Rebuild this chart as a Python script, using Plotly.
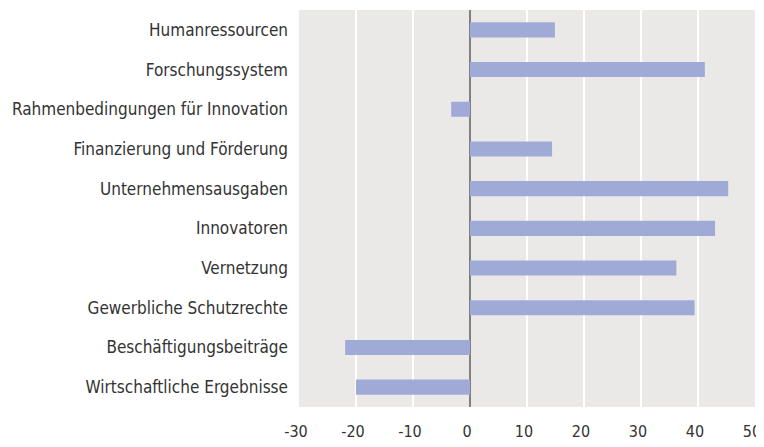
import plotly.graph_objects as go

categories = [
    "Humanressourcen",
    "Forschungssystem",
    "Rahmenbedingungen für Innovation",
    "Finanzierung und Förderung",
    "Unternehmensausgaben",
    "Innovatoren",
    "Vernetzung",
    "Gewerbliche Schutzrechte",
    "Beschäftigungsbeiträge",
    "Wirtschaftliche Ergebnisse",
]
values = [14.9, 41.2, -3.3, 14.4, 45.3, 43.0, 36.2, 39.4, -21.9, -20.0]
tick_vals = [-30, -20, -10, 0, 10, 20, 30, 40, 50]

FONT = "Liberation Sans Narrow, DejaVu Sans Condensed, Roboto, sans-serif"

fig = go.Figure(go.Bar(
    x=values,
    y=categories,
    orientation="h",
    width=0.38,
    marker=dict(color="#a0aad7", line=dict(width=0)),
))

fig.update_layout(
    width=756,
    height=439,
    margin=dict(l=291, r=9, t=2, b=40, autoexpand=False),
    paper_bgcolor="white",
    plot_bgcolor="#ebe9e7",
    showlegend=False,
    font=dict(family=FONT, size=17, color="#333333"),
    xaxis=dict(
        range=[-30, 50],
        tickvals=tick_vals,
        ticktext=[str(v) for v in tick_vals],
        showgrid=True,
        gridcolor="white",
        gridwidth=2,
        zeroline=True,
        zerolinecolor="#808080",
        zerolinewidth=2,
        showline=False,
        ticks="",
        automargin=False,
        ticklabeloverflow="allow",
        ticklabelshift=-3,
        tickfont=dict(family=FONT, size=16, color="#333333"),
        ticklabelstandoff=13,
    ),
    yaxis=dict(
        categoryorder="array",
        categoryarray=categories[::-1],
        showgrid=False,
        zeroline=False,
        showline=False,
        ticks="",
        automargin=False,
        ticklabelstandoff=10,
        tickfont=dict(family=FONT, size=17, color="#333333"),
    ),
)

fig.write_html("out.html")
